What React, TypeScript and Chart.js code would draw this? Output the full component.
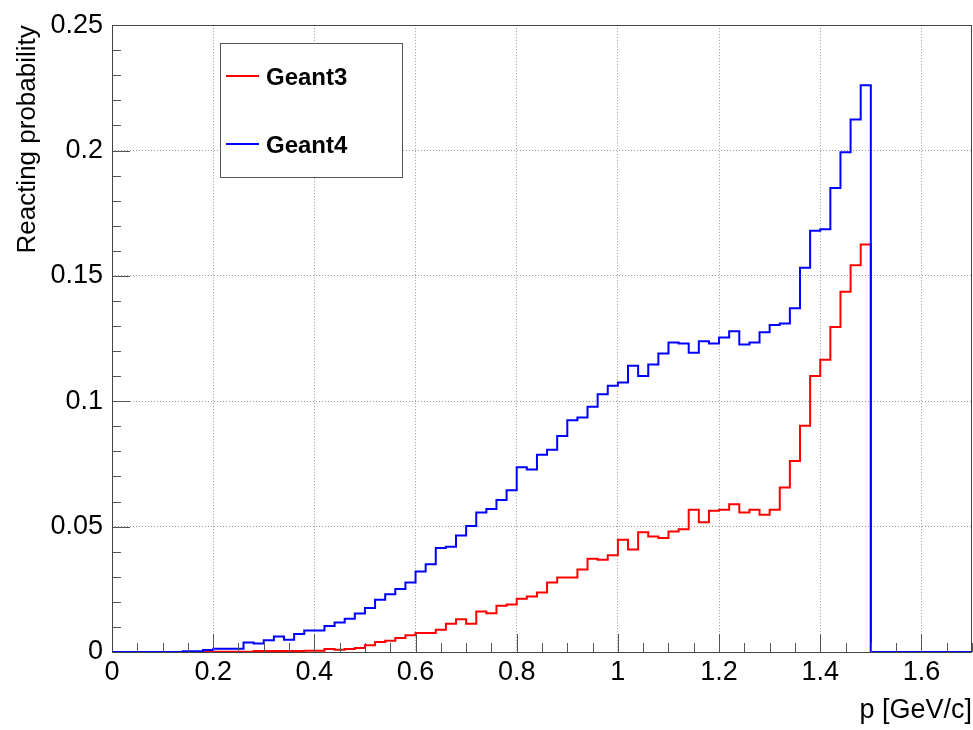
import React, { useEffect, useRef } from "react";
import { Chart, registerables } from "chart.js";

Chart.register(...registerables);

// ---- data (bin width 0.02 GeV/c, from 0 to 1.7) ----
const binWidth = 0.02;
const xMin = 0;
const xMax = 1.7;
const yMin = 0;
const yMax = 0.25;

const seriesLabels = ["Geant3", "Geant4"];
const seriesColors = ["#ff0000", "#0000ff"];

const geant3 = [
  0, 0, 0, 0, 0, 0, 0, 0, 0, 0.0001,
  0.0001, 0.0001, 0.0001, 0.0001, 0.0004, 0.0004, 0.0004, 0.0004, 0.0004, 0.0005,
  0.0005, 0.0012, 0.0009, 0.0012, 0.0016, 0.0027, 0.004, 0.0045, 0.0056, 0.0067,
  0.0076, 0.0076, 0.0089, 0.0113, 0.0131, 0.0113, 0.0162, 0.0155, 0.0184, 0.0189,
  0.0212, 0.0221, 0.0237, 0.0277, 0.0297, 0.0297, 0.0329, 0.0372, 0.0368, 0.0386,
  0.0448, 0.0409, 0.0478, 0.0461, 0.0455, 0.0481, 0.049, 0.0567, 0.0518, 0.0563,
  0.0567, 0.0589, 0.0556, 0.0567, 0.0547, 0.0567, 0.0656, 0.0762, 0.0902, 0.1101,
  0.1166, 0.1296, 0.1437, 0.1543, 0.1625, 0, 0, 0, 0, 0,
  0, 0, 0, 0, 0,
];

const geant4 = [
  0, 0, 0, 0, 0, 0, 0, 0.0003, 0.0003, 0.0008,
  0.0013, 0.0013, 0.0013, 0.0038, 0.0034, 0.0047, 0.0062, 0.0049, 0.0072, 0.0086,
  0.0086, 0.0104, 0.0118, 0.0133, 0.0154, 0.0175, 0.0208, 0.023, 0.0251, 0.0277,
  0.0321, 0.035, 0.0415, 0.042, 0.0465, 0.0503, 0.0556, 0.057, 0.0606, 0.0645,
  0.0737, 0.0728, 0.0787, 0.0807, 0.0862, 0.0924, 0.0935, 0.0978, 0.1028, 0.1062,
  0.1075, 0.1142, 0.1101, 0.1147, 0.1191, 0.1234, 0.123, 0.1194, 0.1239, 0.123,
  0.1254, 0.1279, 0.1226, 0.1234, 0.1275, 0.1304, 0.131, 0.1371, 0.1533, 0.168,
  0.1686, 0.1851, 0.1993, 0.2124, 0.226, 0, 0, 0, 0, 0,
  0, 0, 0, 0, 0,
];

const xTicks = [0, 0.2, 0.4, 0.6, 0.8, 1, 1.2, 1.4, 1.6];
const xTickLabels = ["0", "0.2", "0.4", "0.6", "0.8", "1", "1.2", "1.4", "1.6"];
const yTicks = [0, 0.05, 0.1, 0.15, 0.2, 0.25];
const yTickLabels = ["0", "0.05", "0.1", "0.15", "0.2", "0.25"];

const xTitle = "p [GeV/c]";
const yTitle = "Reacting probability";

const FONT = "'Liberation Sans', Arial, Helvetica, sans-serif";

function histPoints(values: number[]) {
  const pts = values.map((v, i) => ({ x: xMin + i * binWidth, y: v }));
  pts.push({ x: xMin + values.length * binWidth, y: values[values.length - 1] });
  return pts;
}

const rootDecor = {
  id: "rootDecor",
  afterDraw(chart: any) {
    const { ctx, chartArea: a, scales } = chart;
    const x = scales.x;
    const y = scales.y;
    ctx.save();
    // tick marks (major + minor)
    ctx.strokeStyle = "#555";
    ctx.lineWidth = 1;
    ctx.beginPath();
    for (let k = 0; k <= 34; k++) {
      const px = Math.round(x.getPixelForValue(k * 0.05)) + 0.5;
      const len = k % 4 === 0 ? 18 : 9;
      ctx.moveTo(px, a.bottom);
      ctx.lineTo(px, a.bottom - len);
    }
    for (let k = 0; k <= 25; k++) {
      const py = Math.round(y.getPixelForValue(k * 0.01)) + 0.5;
      const len = k % 5 === 0 ? 18 : 9;
      ctx.moveTo(a.left, py);
      ctx.lineTo(a.left + len, py);
    }
    ctx.stroke();
    // frame
    ctx.strokeStyle = "#444";
    ctx.strokeRect(
      Math.round(a.left) + 0.5,
      Math.round(a.top) + 0.5,
      Math.round(a.right - a.left) - 1,
      Math.round(a.bottom - a.top)
    );
    // legend
    const bx = 220, by = 43, bw = 182, bh = 134;
    ctx.fillStyle = "#ffffff";
    ctx.fillRect(bx, by, bw, bh);
    ctx.strokeStyle = "#555";
    ctx.lineWidth = 1;
    ctx.strokeRect(bx + 0.5, by + 0.5, bw, bh);
    const rows = [76, 144];
    chart.data.datasets.forEach((ds: any, i: number) => {
      const ry = rows[i];
      ctx.strokeStyle = ds.borderColor;
      ctx.lineWidth = 2;
      ctx.beginPath();
      ctx.moveTo(226, ry);
      ctx.lineTo(259, ry);
      ctx.stroke();
      ctx.fillStyle = "#000";
      ctx.font = `bold 24px ${FONT}`;
      ctx.textAlign = "left";
      ctx.textBaseline = "middle";
      ctx.fillText(ds.label, 266, ry + 2);
    });
    ctx.restore();
  },
};

export default function App() {
  const ref = useRef<HTMLCanvasElement | null>(null);

  useEffect(() => {
    if (!ref.current) return;
    const series = [geant3, geant4];
    const chart = new Chart(ref.current, {
      type: "line",
      data: {
        datasets: series.map((vals, i) => ({
          label: seriesLabels[i],
          data: histPoints(vals),
          borderColor: seriesColors[i],
          backgroundColor: seriesColors[i],
          borderWidth: 2,
          pointRadius: 0,
          stepped: "before" as const,
          fill: false,
          order: i === 1 ? 0 : 1,
        })),
      },
      options: {
        responsive: false,
        animation: false,
        devicePixelRatio: 1,
        parsing: false as any,
        normalized: true,
        layout: { padding: { top: 18, right: 1, left: 0, bottom: 0 } },
        plugins: {
          legend: { display: false },
          tooltip: { enabled: false },
        },
        scales: {
          x: {
            type: "linear",
            min: xMin,
            max: xMax,
            afterBuildTicks: (s: any) => {
              s.ticks = xTicks.map((v) => ({ value: v }));
            },
            afterFit: (s: any) => {
              s.height = 78;
            },
            ticks: {
              callback: (v: any) => xTickLabels[xTicks.indexOf(Number(v))] ?? "",
              font: { family: FONT, size: 27 },
              color: "#000",
              padding: 4,
              maxRotation: 0,
              autoSkip: false,
            },
            grid: { color: "#999", lineWidth: 1, drawTicks: false },
            border: { display: false, dash: [1, 2] },
            title: {
              display: true,
              text: xTitle,
              align: "end",
              color: "#000",
              font: { family: FONT, size: 27 },
              padding: { top: 0, bottom: 3 },
            },
          },
          y: {
            type: "linear",
            min: yMin,
            max: yMax,
            afterBuildTicks: (s: any) => {
              s.ticks = yTicks.map((v) => ({ value: v }));
            },
            afterFit: (s: any) => {
              s.width = 112;
            },
            ticks: {
              callback: (v: any) => yTickLabels[yTicks.indexOf(Number(v))] ?? "",
              font: { family: FONT, size: 27 },
              color: "#000",
              padding: 9,
              autoSkip: false,
            },
            grid: { color: "#999", lineWidth: 1, drawTicks: false },
            border: { display: false, dash: [1, 2] },
            title: {
              display: true,
              text: yTitle,
              align: "end",
              color: "#000",
              font: { family: FONT, size: 26 },
              padding: { top: 12, bottom: 0 },
            },
          },
        },
      } as any,
      plugins: [rootDecor],
    });
    return () => chart.destroy();
  }, []);

  return (
    <div
      style={{
        position: "fixed",
        left: 0,
        top: 0,
        width: 973,
        height: 730,
        background: "#ffffff",
      }}
    >
      <canvas ref={ref} width={973} height={730} style={{ width: 973, height: 730, display: "block" }} />
    </div>
  );
}
